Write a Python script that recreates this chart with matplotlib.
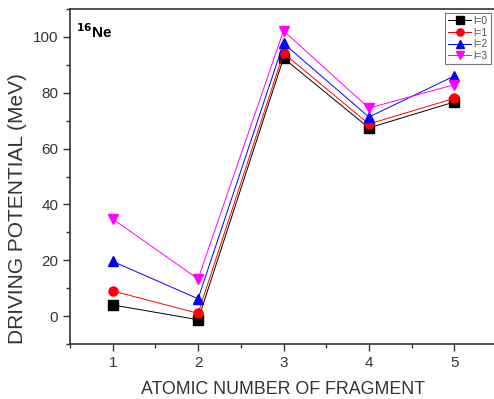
import matplotlib
matplotlib.use("Agg")
import matplotlib.pyplot as plt
from matplotlib.ticker import MultipleLocator

plt.rcParams['font.family'] = ['Liberation Sans', 'DejaVu Sans']

fragments = [1, 2, 3, 4, 5]
l0 = [4.0, -1.3, 92.4, 67.4, 76.7]
l1 = [9.0, 1.0, 94.2, 68.8, 78.0]
l2 = [19.6, 6.2, 97.7, 71.3, 86.0]
l3 = [34.8, 13.3, 102.2, 74.5, 82.9]
labels = ['l=0', 'l=1', 'l=2', 'l=3']

W, H = 494, 399
fig = plt.figure(figsize=(W/100, H/100), dpi=100)
ax = fig.add_axes([70/W, 1-344/H, (497-70)/W, (344-9)/H])

series = [(l0, 'black', 's'), (l1, 'red', 'o'), (l2, 'blue', '^'), (l3, 'magenta', 'v')]
for (vals, c, m), lab in zip(series, labels):
    ax.plot(fragments, vals, color=c, marker=m, markersize=6.5, linewidth=0.7,
            markeredgecolor=c, label=lab)

ax.set_xlim(0.5, 5.5)
ax.set_ylim(-10, 110)
ax.xaxis.set_major_locator(MultipleLocator(1))
ax.xaxis.set_minor_locator(MultipleLocator(0.5))
ax.yaxis.set_major_locator(MultipleLocator(20))
ax.yaxis.set_minor_locator(MultipleLocator(10))
ax.tick_params(which='major', length=5, width=1, labelsize=11, colors='#333333', labelcolor='#333333')
ax.tick_params(which='minor', length=3, width=1, colors='#333333')
for s in ax.spines.values():
    s.set_linewidth(1.2)
    s.set_color('#333333')

ax.set_xlabel('ATOMIC NUMBER OF FRAGMENT', fontsize=12.8, color='#333333')
ax.xaxis.label.set_va('center')
ax.xaxis.set_label_coords(283/W, 1-389/H, transform=fig.transFigure)
ax.set_ylabel('DRIVING POTENTIAL (MeV)', fontsize=15, color='#333333')
ax.yaxis.label.set_va('center')
ax.yaxis.set_label_coords(18/W, 1-209/H, transform=fig.transFigure)

ax.text(0.57, 102, r'$^{\mathbf{16}}$Ne', fontsize=11, fontweight='bold', va='center')

leg = ax.legend(loc='upper left', bbox_to_anchor=((445-70)/427, 1-(13-9)/335), fontsize=7.5,
                frameon=True, fancybox=False, edgecolor='#555555', handlelength=2.2,
                handletextpad=0.2, borderpad=0.3, labelspacing=0.15, borderaxespad=0,
                markerscale=0.8)
leg.get_frame().set_linewidth(0.8)
for t in leg.get_texts():
    t.set_color('#555555')

fig.savefig('out.png', dpi=100)
